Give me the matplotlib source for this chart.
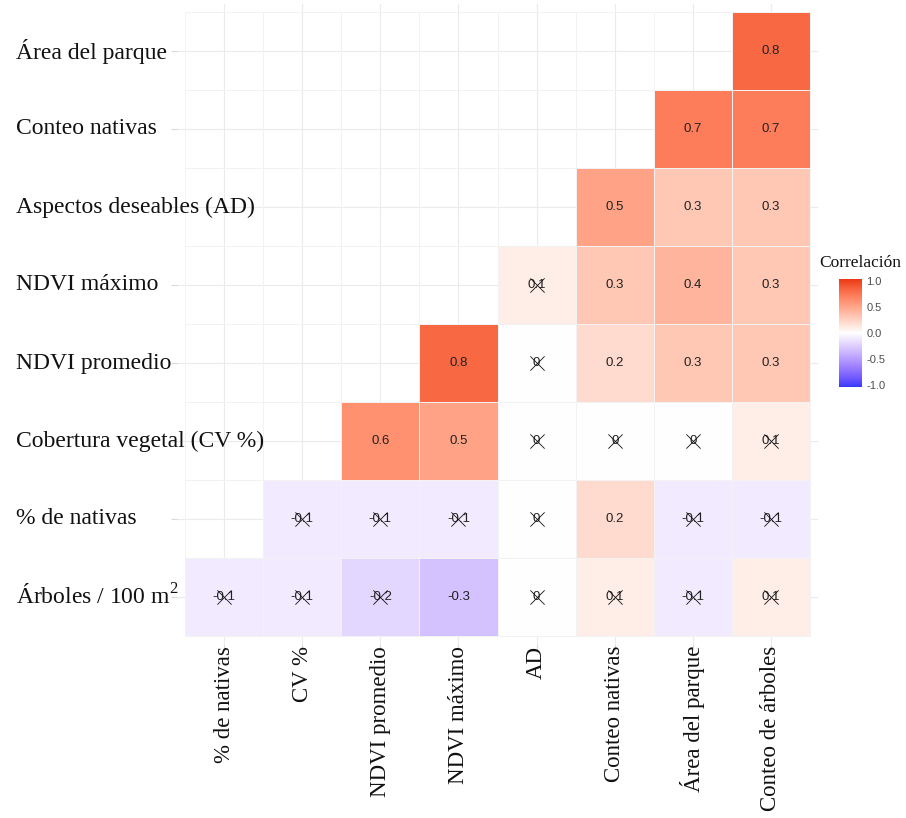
import numpy as np
import matplotlib
matplotlib.use("Agg")
import matplotlib.pyplot as plt
from matplotlib.colors import ListedColormap
from matplotlib import transforms

plt.rcParams["mathtext.fontset"] = "custom"
plt.rcParams["mathtext.rm"] = "Liberation Serif"

row_labels = ["Área del parque", "Conteo nativas", "Aspectos deseables (AD)",
              "NDVI máximo", "NDVI promedio", "Cobertura vegetal (CV %)",
              "% de nativas", r"Árboles / 100 m$^{2}$"]
col_labels = ["% de nativas", "CV %", "NDVI promedio", "NDVI máximo", "AD",
              "Conteo nativas", "Área del parque", "Conteo de árboles"]

n = np.nan
corr = np.array([
    [n,    n,    n,    n,    n,   n,   n,    0.8],
    [n,    n,    n,    n,    n,   n,   0.7,  0.7],
    [n,    n,    n,    n,    n,   0.5, 0.3,  0.3],
    [n,    n,    n,    n,    0.1, 0.3, 0.4,  0.3],
    [n,    n,    n,    0.8,  0.0, 0.2, 0.3,  0.3],
    [n,    n,    0.6,  0.5,  0.0, 0.0, 0.0,  0.1],
    [n,   -0.1, -0.1, -0.1,  0.0, 0.2, -0.1, -0.1],
    [-0.1, -0.1, -0.2, -0.3, 0.0, 0.1, -0.1, 0.1],
])
# 1 = not significant (crossed out)
insig = np.array([
    [0, 0, 0, 0, 0, 0, 0, 0],
    [0, 0, 0, 0, 0, 0, 0, 0],
    [0, 0, 0, 0, 0, 0, 0, 0],
    [0, 0, 0, 0, 1, 0, 0, 0],
    [0, 0, 0, 0, 1, 0, 0, 0],
    [0, 0, 0, 0, 1, 1, 1, 1],
    [0, 1, 1, 1, 1, 0, 1, 1],
    [1, 1, 1, 0, 1, 1, 1, 1],
])


# gradient blue - white - red interpolated in CIELAB like ggplot's gradient2
def srgb_to_lab(c):
    c = np.asarray(c, float)
    lin = np.where(c <= 0.04045, c / 12.92, ((c + 0.055) / 1.055) ** 2.4)
    M = np.array([[0.4124, 0.3576, 0.1805], [0.2126, 0.7152, 0.0722], [0.0193, 0.1192, 0.9505]])
    xyz = M @ lin / np.array([0.95047, 1.0, 1.08883])
    f = np.where(xyz > 0.008856, np.cbrt(xyz), 7.787 * xyz + 16 / 116)
    return np.array([116 * f[1] - 16, 500 * (f[0] - f[1]), 200 * (f[1] - f[2])])


def lab_to_srgb(lab):
    L, a, b = lab
    fy = (L + 16) / 116
    fx = fy + a / 500
    fz = fy - b / 200
    f = np.array([fx, fy, fz])
    xyz = np.where(f ** 3 > 0.008856, f ** 3, (f - 16 / 116) / 7.787) * np.array([0.95047, 1.0, 1.08883])
    Mi = np.array([[3.2406, -1.5372, -0.4986], [-0.9689, 1.8758, 0.0415], [0.0557, -0.2040, 1.0570]])
    lin = Mi @ xyz
    c = np.where(lin <= 0.0031308, 12.92 * lin, 1.055 * np.clip(lin, 0, None) ** (1 / 2.4) - 0.055)
    return np.clip(c, 0, 1)


lo = srgb_to_lab([0.2, 0.22, 1.0])
mid = srgb_to_lab([1, 1, 1])
hi = srgb_to_lab([0.92, 0.22, 0.08])
cols = []
for t in np.linspace(-1, 1, 256):
    if t < 0:
        cols.append(lab_to_srgb(mid + (lo - mid) * (-t)))
    else:
        cols.append(lab_to_srgb(mid + (hi - mid) * t))
cmap = ListedColormap(cols)

W, H = 906, 818
fig = plt.figure(figsize=(W / 100, H / 100), dpi=100)
pad = 0.1
unit_x = 625 / 8
unit_y = 624 / 8
left_px = 185 - pad * unit_x
top_px = 12 - pad * unit_y
ax = fig.add_axes([left_px / W, 1 - (top_px + (8 + 2 * pad) * unit_y) / H,
                   (8 + 2 * pad) * unit_x / W, (8 + 2 * pad) * unit_y / H])
nr, nc = corr.shape
ax.set_xlim(-0.5 - pad, nc - 0.5 + pad)
ax.set_ylim(nr - 0.5 + pad, -0.5 - pad)
for s in ax.spines.values():
    s.set_visible(False)

for i in range(nc):
    ax.axvline(i, color="#ebebeb", lw=0.8, zorder=0)
for j in range(nr):
    ax.axhline(j, color="#ebebeb", lw=0.8, zorder=0)

xe = np.arange(nc + 1) - 0.5
ye = np.arange(nr + 1) - 0.5
ax.pcolormesh(xe, ye, np.ma.masked_invalid(corr), cmap=cmap, vmin=-1, vmax=1,
              edgecolors="#f2f2f2", linewidth=0.5, zorder=1)

cx, cy = [], []
for r in range(nr):
    for c in range(nc):
        v = corr[r, c]
        if np.isnan(v):
            continue
        lab = "0" if abs(v) < 1e-9 else f"{v:.1f}"
        ax.text(c, r, lab, ha="center", va="center", fontsize=9.5,
                family="Liberation Sans", color="#222222", zorder=3)
        if insig[r, c]:
            cx.append(c)
            cy.append(r)
ax.scatter(cx, cy, marker="x", s=105, linewidths=0.6, color="#111111", zorder=4)

ax.set_xticks(range(nc))
ax.set_yticks(range(nr))
ax.set_xticklabels([])
ax.set_yticklabels([])
ax.tick_params(length=4, color="#d9d9d9", width=0.8)

# row labels, left aligned near the figure edge
tr = transforms.blended_transform_factory(fig.transFigure, ax.transData)
for r, lab in enumerate(row_labels):
    ax.text(16 / W, r, lab, transform=tr, ha="left", va="center",
            fontsize=17, family="Liberation Serif", color="#111111")
# column labels, rotated
trx = transforms.blended_transform_factory(ax.transData, fig.transFigure)
for c, lab in enumerate(col_labels):
    ax.text(c, 1 - 646 / H, lab, transform=trx, rotation=90, ha="center", va="top",
            fontsize=16.5, family="Liberation Serif", color="#111111")

# colour bar legend
cax = fig.add_axes([839 / W, 1 - 387 / H, 23 / W, 108 / H])
grad = np.linspace(-1, 1, 256).reshape(-1, 1)
cax.imshow(grad, aspect="auto", cmap=cmap, origin="lower", extent=[0, 1, -1.04, 1.04])
cax.set_xlim(0, 1)
cax.set_ylim(-1.04, 1.04)
cax.set_xticks([])
cax.yaxis.tick_right()
cax.set_yticks([-1, -0.5, 0, 0.5, 1])
cax.set_yticklabels(["-1.0", "-0.5", "0.0", "0.5", "1.0"], fontsize=8,
                    family="Liberation Sans", color="#4d4d4d")
cax.tick_params(length=0, pad=3)
for s in cax.spines.values():
    s.set_visible(False)
fig.text(860 / W, 1 - 263 / H, "Correlación", ha="center", va="center",
         fontsize=12.5, family="Liberation Serif", color="#111111")

fig.savefig("out.png", dpi=100)
